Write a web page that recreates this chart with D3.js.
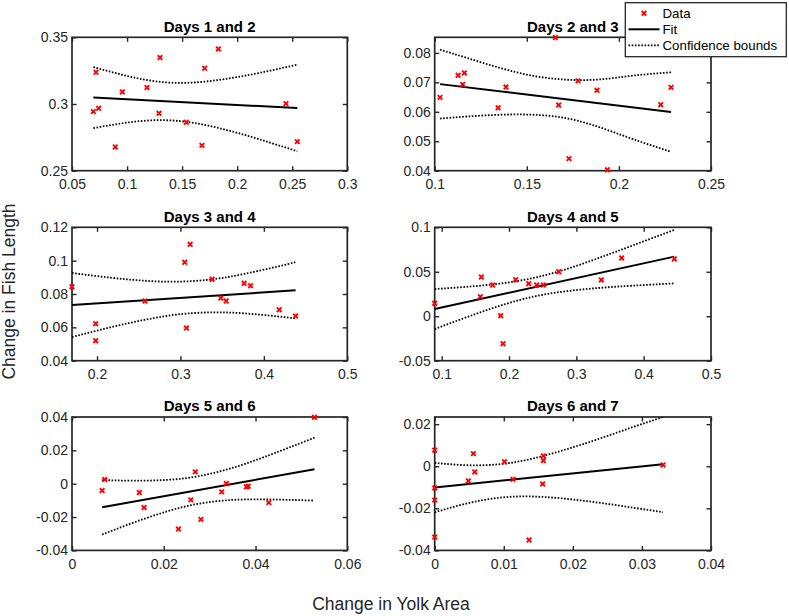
<!DOCTYPE html>
<html><head><meta charset="utf-8">
<script src="https://cdn.jsdelivr.net/npm/d3@7"></script>
<style>
body{margin:0;background:#fff}
svg{display:block;font-family:"Liberation Sans",Arial,Helvetica,sans-serif}
</style>
</head><body>
<svg id="chart" width="789" height="616"></svg>
<script>
// ---------- data ----------
const titles = ["Days 1 and 2","Days 2 and 3","Days 3 and 4","Days 4 and 5","Days 5 and 6","Days 6 and 7"];

const dataX = [
  [0.0694,0.0718,0.0742,0.0893,0.0957,0.1181,0.1290,0.1299,0.1538,0.1680,0.1705,0.1829,0.2443,0.2546],
  [0.1029,0.1127,0.1152,0.1161,0.1344,0.1387,0.1655,0.1673,0.1729,0.1778,0.1881,0.1937,0.2227,0.2283],
  [0.1700,0.1984,0.1984,0.2576,0.3052,0.3116,0.3072,0.3380,0.3484,0.3548,0.3764,0.3840,0.4184,0.4380],
  [0.0896,0.1574,0.1589,0.1757,0.1876,0.1911,0.2099,0.2292,0.2411,0.2510,0.2738,0.3371,0.3673,0.4455],
  [0.00657,0.00715,0.01467,0.0157,0.0232,0.0259,0.02686,0.0281,0.03263,0.03365,0.0380,0.0384,0.0429,0.05285],
  [0,0,0,0,0.00487,0.0056,0.0058,0.0101,0.01134,0.01366,0.01573,0.01573,0.01563,0.03305]
];
const dataY = [
  [0.2943,0.3238,0.2968,0.2678,0.3090,0.3123,0.2930,0.3348,0.2863,0.2690,0.3268,0.3413,0.3003,0.2718],
  [0.0649,0.0724,0.0693,0.0732,0.0614,0.0684,0.0852,0.0623,0.0441,0.0705,0.0673,0.0403,0.0624,0.0683],
  [0.0844,0.0622,0.0520,0.0758,0.0990,0.1098,0.0596,0.0888,0.0776,0.0758,0.0864,0.0850,0.0706,0.0668],
  [0.0145,0.0220,0.0441,0.0351,0.0006,-0.0309,0.0411,0.0366,0.0351,0.0351,0.0501,0.0408,0.0655,0.0644],
  [-0.0041,0.0025,-0.0053,-0.0143,-0.0272,-0.0097,0.0071,-0.0214,-0.0049,0.0001,-0.0019,-0.0015,-0.0113,0.0398],
  [0.0076,-0.0103,-0.0161,-0.0337,-0.0070,0.0060,-0.0027,0.0021,-0.0062,-0.0351,0.0049,0.0027,-0.0084,0.0006]
];

const fitX = [[0.0694,0.2546],[0.1029,0.2283],[0.1700,0.4380],[0.0896,0.4455],[0.00657,0.05285],[0,0.03305]];
const fitY = [[0.3048,0.2970],[0.0694,0.0599],[0.0734,0.0822],[0.0081,0.0670],[-0.0141,0.0087],[-0.0101,0.00095]];

const boundX = [
  [0.0694,0.0996,0.1299,0.1602,0.1904,0.2207,0.2546],
  [0.1029,0.1174,0.1355,0.1536,0.1716,0.1897,0.2078,0.2283],
  [0.1700,0.216,0.256,0.296,0.338,0.376,0.416,0.438],
  [0.0896,0.1371,0.1866,0.2361,0.2856,0.3351,0.3847,0.4455],
  [0.00657,0.01343,0.02073,0.02759,0.0346,0.0419,0.05285],
  [0,0.00463,0.00951,0.01428,0.01911,0.02393,0.02876,0.03305]
];
const upperBound = [
  [0.3277,0.3211,0.3166,0.3161,0.3189,0.3234,0.3295],
  [0.0811,0.0783,0.0749,0.0722,0.0709,0.0710,0.0723,0.0734],
  [0.0926,0.0898,0.0880,0.0874,0.0888,0.0920,0.0964,0.0991],
  [0.0306,0.0331,0.0367,0.0430,0.0531,0.0660,0.0799,0.0971],
  [0.0022,0.0018,0.0023,0.0045,0.0092,0.0160,0.0276],
  [0.0016,0.0005,0.0010,0.0037,0.0081,0.0132,0.0187,0.0234]
];
const lowerBound = [
  [0.2819,0.2860,0.2879,0.2859,0.2805,0.2734,0.2645],
  [0.0577,0.0584,0.0590,0.0590,0.0578,0.0547,0.0507,0.0464],
  [0.0542,0.0600,0.0644,0.0677,0.0690,0.0684,0.0666,0.0653],
  [-0.0144,-0.0011,0.0118,0.0220,0.0282,0.0319,0.0344,0.0369],
  [-0.0305,-0.0233,-0.0166,-0.0120,-0.0098,-0.0094,-0.0101],
  [-0.0219,-0.0177,-0.0149,-0.0144,-0.0155,-0.0174,-0.0197,-0.0219]
];

const xDomains = [[0.05,0.3],[0.1,0.25],[0.17,0.5],[0.0896,0.5],[0,0.06],[0,0.04]];
const yDomains = [[0.25,0.35],[0.04,0.0853],[0.04,0.12],[-0.05,0.1],[-0.04,0.04],[-0.04,0.0234]];

const xTicks = [
  [0.05,0.1,0.15,0.2,0.25,0.3],[0.1,0.15,0.2,0.25],[0.2,0.3,0.4,0.5],
  [0.1,0.2,0.3,0.4,0.5],[0,0.02,0.04,0.06],[0,0.01,0.02,0.03,0.04]
];
const xTickLabels = [
  ["0.05","0.1","0.15","0.2","0.25","0.3"],["0.1","0.15","0.2","0.25"],["0.2","0.3","0.4","0.5"],
  ["0.1","0.2","0.3","0.4","0.5"],["0","0.02","0.04","0.06"],["0","0.01","0.02","0.03","0.04"]
];
const yTicks = [
  [0.25,0.3,0.35],[0.04,0.05,0.06,0.07,0.08],[0.04,0.06,0.08,0.1,0.12],
  [-0.05,0,0.05,0.1],[-0.04,-0.02,0,0.02,0.04],[-0.04,-0.02,0,0.02]
];
const yTickLabels = [
  ["0.25","0.3","0.35"],["0.04","0.05","0.06","0.07","0.08"],["0.04","0.06","0.08","0.1","0.12"],
  ["-0.05","0","0.05","0.1"],["-0.04","-0.02","0","0.02","0.04"],["-0.04","-0.02","0","0.02"]
];

const legendLabels = ["Data","Fit","Confidence bounds"];
const xAxisLabel = "Change in Yolk Area";
const yAxisLabel = "Change in Fish Length";

// ---------- layout ----------
const colLeft = [72, 434.7], colWidth = [275.3, 276.3];
const rowTop = [37.3, 227.3, 417.0], rowHeight = 133.4;
const axisColor = "#262626";
const tickLen = 4.5;
const dotPattern = "1.6,1.6";

const svg = d3.select("#chart");
const defs = svg.append("defs");
const xMarker = "M-2.3,-2.3L2.3,2.3M-2.3,2.3L2.3,-2.3";

titles.forEach((title, i) => {
  const col = i % 2, row = Math.floor(i / 2);
  const left = colLeft[col], top = rowTop[row], w = colWidth[col], h = rowHeight;
  const x = d3.scaleLinear().domain(xDomains[i]).range([left, left + w]);
  const y = d3.scaleLinear().domain(yDomains[i]).range([top + h, top]);
  const g = svg.append("g");

  defs.append("clipPath").attr("id", "clip" + i)
    .append("rect").attr("x", left).attr("y", top).attr("width", w).attr("height", h);

  // axes
  const bottom = g.append("g").attr("transform", `translate(0,${top + h})`)
    .call(d3.axisBottom(x).tickValues(xTicks[i]).tickFormat((d, j) => xTickLabels[i][j])
      .tickSizeInner(-tickLen).tickSizeOuter(0).tickPadding(8.6));
  const topAx = g.append("g").attr("transform", `translate(0,${top})`)
    .call(d3.axisTop(x).tickValues(xTicks[i]).tickFormat("").tickSizeInner(-tickLen).tickSizeOuter(0));
  const leftAx = g.append("g").attr("transform", `translate(${left},0)`)
    .call(d3.axisLeft(y).tickValues(yTicks[i]).tickFormat((d, j) => yTickLabels[i][j])
      .tickSizeInner(-tickLen).tickSizeOuter(0).tickPadding(4));
  const rightAx = g.append("g").attr("transform", `translate(${left + w},0)`)
    .call(d3.axisRight(y).tickValues(yTicks[i]).tickFormat("").tickSizeInner(-tickLen).tickSizeOuter(0));
  [bottom, topAx, leftAx, rightAx].forEach(a => {
    a.select(".domain").remove();
    a.selectAll(".tick line").attr("stroke", axisColor).attr("stroke-width", 1.4);
    a.selectAll(".tick text").attr("fill", axisColor).style("font-size", "14px")
      .style("font-family", '"Liberation Sans",Arial,Helvetica,sans-serif');
  });

  g.append("rect").attr("x", left).attr("y", top).attr("width", w).attr("height", h)
    .attr("fill", "none").attr("stroke", axisColor).attr("stroke-width", 1.7);

  // title
  g.append("text").attr("x", left + w / 2).attr("y", top - 5.8)
    .attr("text-anchor", "middle").style("font-size", "15px").style("font-weight", "bold")
    .attr("fill", "#000").text(title);

  const plot = g.append("g").attr("clip-path", `url(#clip${i})`);

  // confidence bounds
  const bLine = d3.line().x(d => x(d[0])).y(d => y(d[1])).curve(d3.curveNatural);
  [upperBound[i], lowerBound[i]].forEach(b => {
    plot.append("path").datum(boundX[i].map((bx, j) => [bx, b[j]]))
      .attr("d", bLine).attr("fill", "none").attr("stroke", "#000")
      .attr("stroke-width", 1.8).attr("stroke-dasharray", dotPattern);
  });

  // fit line
  plot.append("path").datum(fitX[i].map((fx, j) => [fx, fitY[i][j]]))
    .attr("d", d3.line().x(d => x(d[0])).y(d => y(d[1])))
    .attr("fill", "none").attr("stroke", "#000").attr("stroke-width", 2);

  // data points
  g.append("g").selectAll("path").data(dataX[i].map((dx, j) => [dx, dataY[i][j]]))
    .join("path").attr("d", xMarker)
    .attr("transform", d => `translate(${x(d[0])},${y(d[1])})`)
    .attr("fill", "none").attr("stroke", "#ff0000").attr("stroke-width", 1.9);
});

// axis labels
svg.append("text").attr("x", 391).attr("y", 610).attr("text-anchor", "middle")
  .style("font-size", "17.5px").attr("fill", axisColor).text(xAxisLabel);
svg.append("text").attr("transform", "translate(15,291.5) rotate(-90)").attr("text-anchor", "middle")
  .style("font-size", "17.5px").attr("fill", axisColor).text(yAxisLabel);

// legend
const lg = svg.append("g");
lg.append("rect").attr("x", 625.3).attr("y", 2.7).attr("width", 161).attr("height", 54)
  .attr("fill", "#fff").attr("stroke", axisColor).attr("stroke-width", 1.3);
const rowsY = [13.3, 29.3, 45.3];
lg.append("path").attr("d", xMarker).attr("transform", `translate(644,${rowsY[0]})`)
  .attr("fill", "none").attr("stroke", "#ff0000").attr("stroke-width", 1.9);
lg.append("line").attr("x1", 628.5).attr("x2", 659.5).attr("y1", rowsY[1]).attr("y2", rowsY[1])
  .attr("stroke", "#000").attr("stroke-width", 2);
lg.append("line").attr("x1", 628.5).attr("x2", 659.5).attr("y1", rowsY[2]).attr("y2", rowsY[2])
  .attr("stroke", "#000").attr("stroke-width", 1.8).attr("stroke-dasharray", dotPattern);
legendLabels.forEach((t, j) => {
  lg.append("text").attr("x", 662.5).attr("y", rowsY[j]).attr("dy", "0.35em")
    .style("font-size", "13.3px").attr("fill", "#000").text(t);
});
</script>
</body></html>
